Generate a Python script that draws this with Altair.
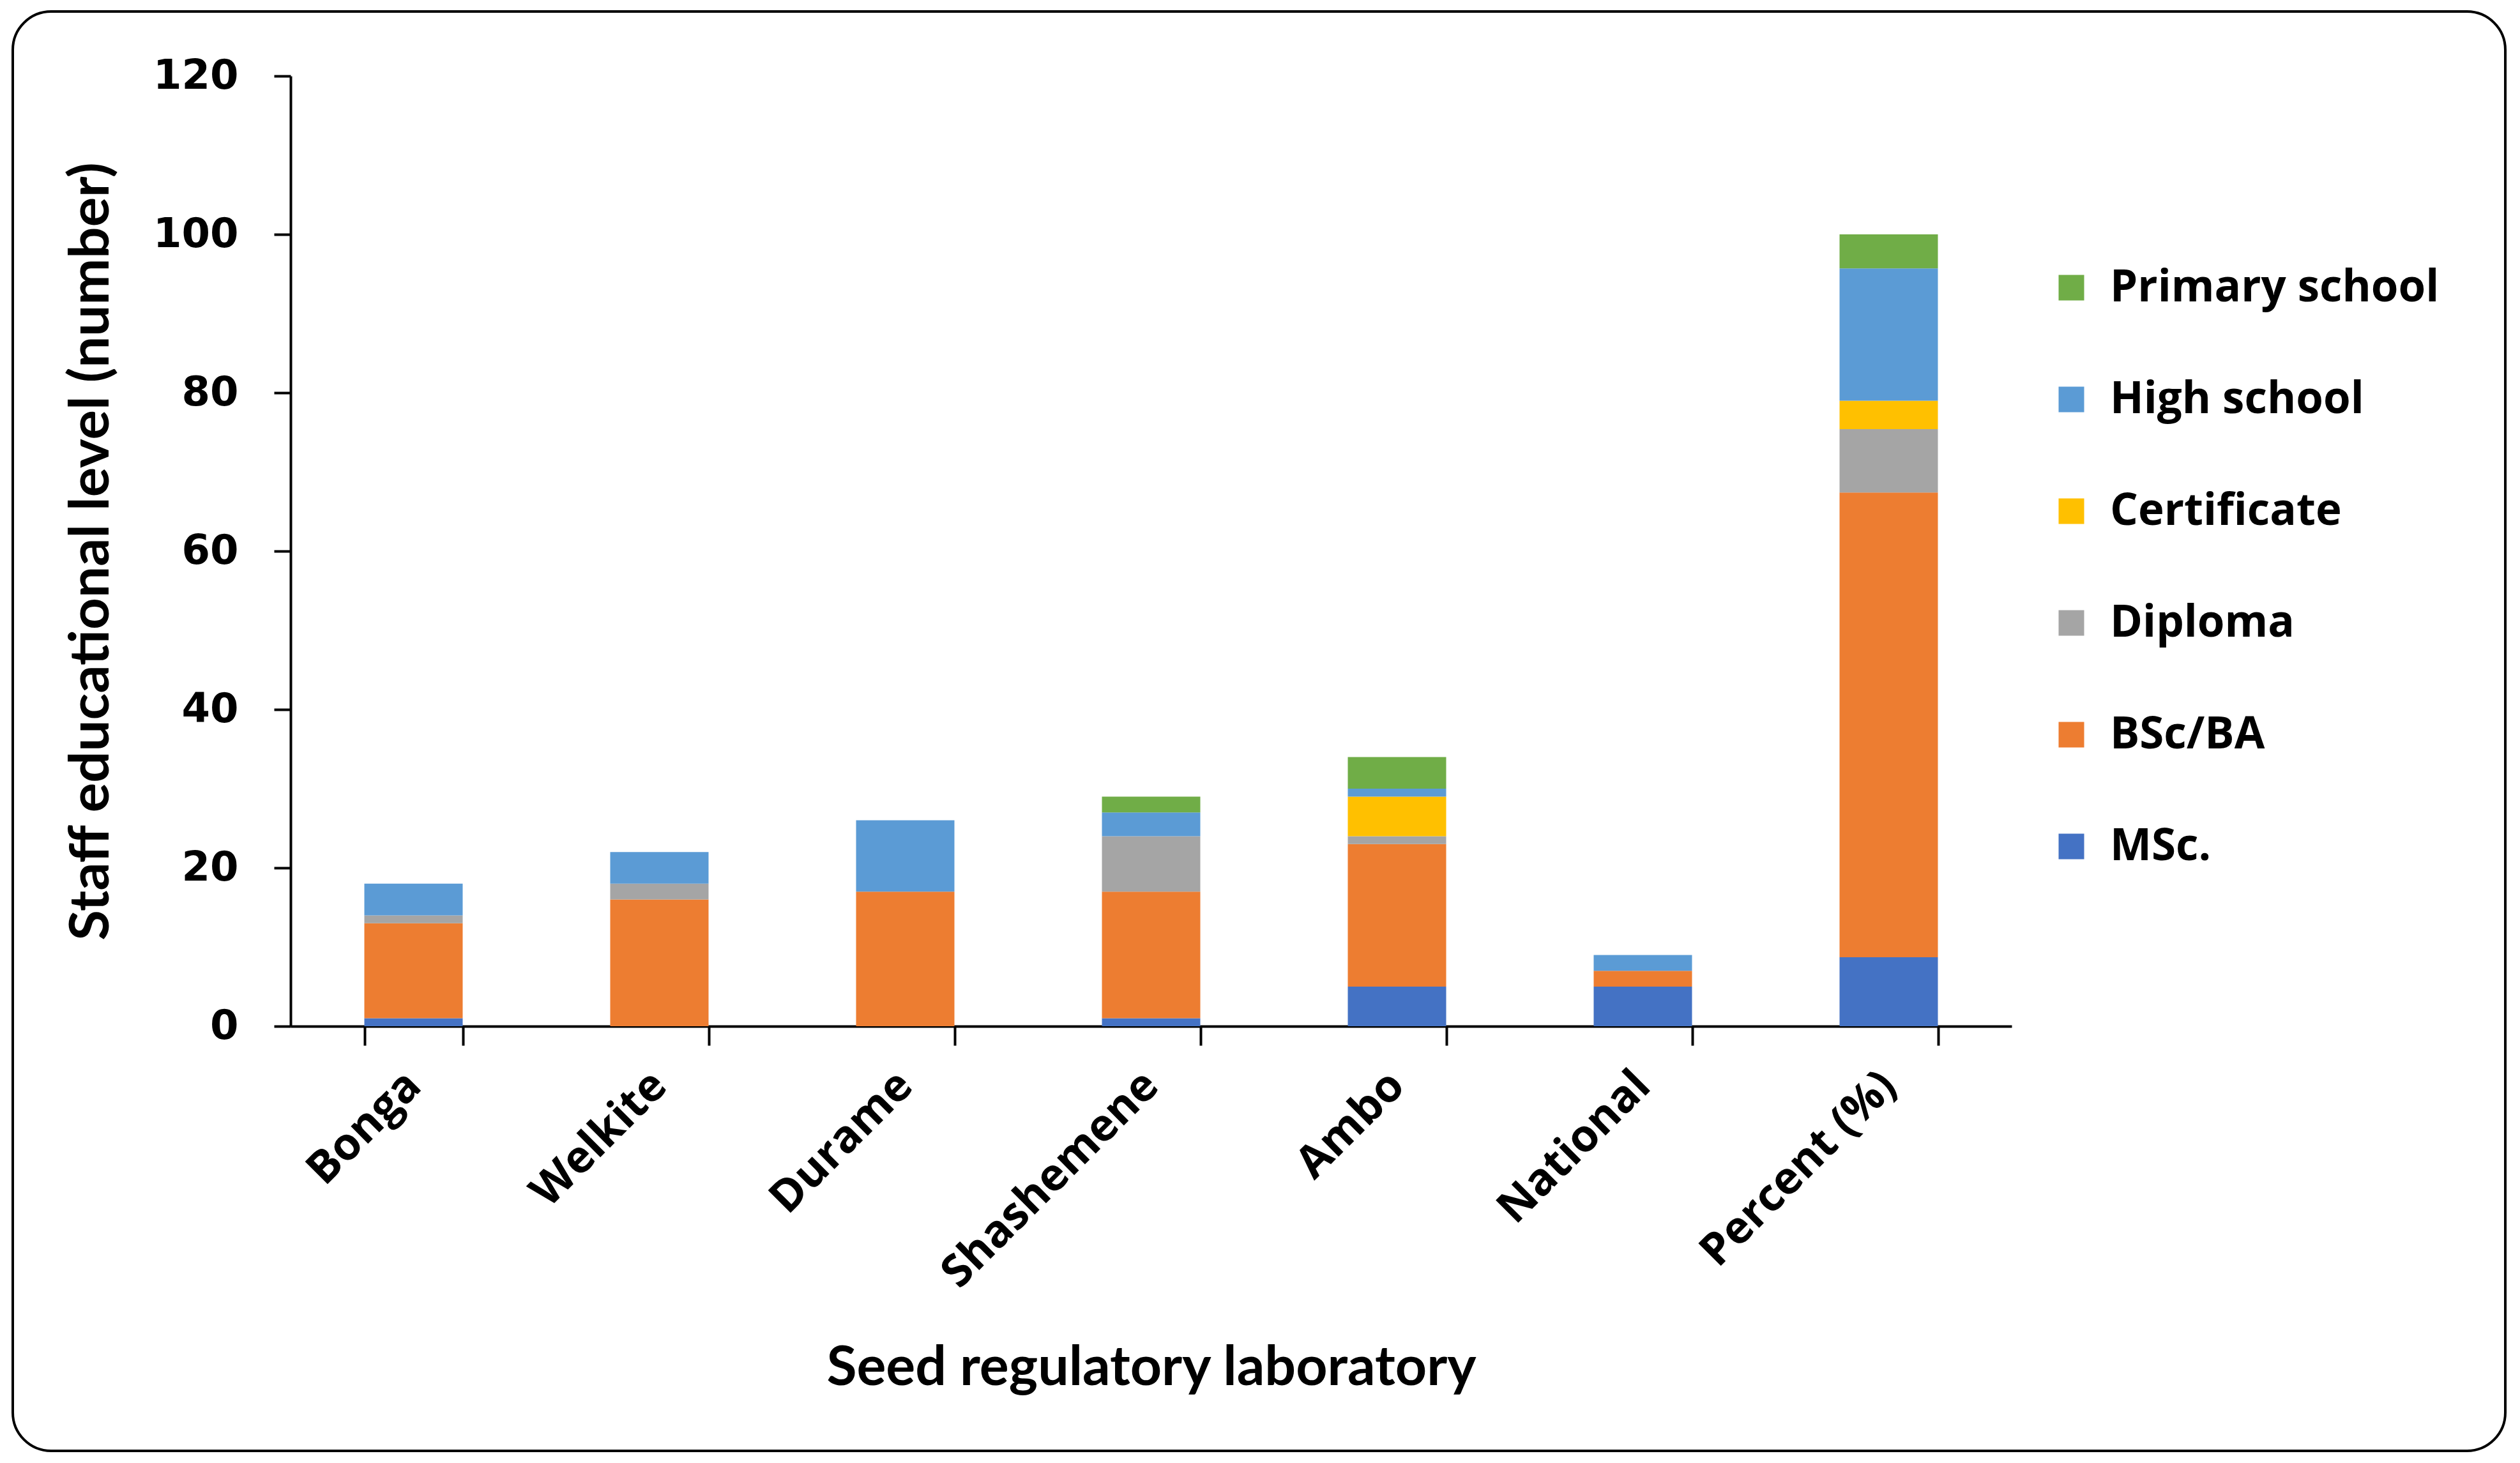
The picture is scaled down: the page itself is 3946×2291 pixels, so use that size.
import altair as alt
import pandas as pd

labs = ["Bonga", "Welkite", "Durame", "Shashemene", "Ambo", "National", "Percent (%)"]
levels = ["MSc.", "BSc/BA", "Diploma", "Certificate", "High school", "Primary school"]
msc = [1, 0, 0, 1, 5, 5, 8.7]
bsc = [12, 16, 17, 16, 18, 2, 58.7]
diploma = [1, 2, 0, 7, 1, 0, 8.0]
certificate = [0, 0, 0, 0, 5, 0, 3.6]
high_school = [4, 4, 9, 3, 1, 2, 16.7]
primary_school = [0, 0, 0, 2, 4, 0, 4.3]
colors = ["#4472C4", "#ED7D31", "#A5A5A5", "#FFC000", "#5B9BD5", "#70AD47"]

series = [msc, bsc, diploma, certificate, high_school, primary_school]
rows = []
for k, (lev, vals) in enumerate(zip(levels, series)):
    for lab, v in zip(labs, vals):
        rows.append({"lab": lab, "level": lev, "value": v, "ord": k})
df = pd.DataFrame(rows)

W, H = 2695, 1488
PL, PT = 447, 111
PR = 3930 - PL - W
PB = 2275 - PT - H

title_font = "Lato"
label_font = "Open Sans"

border = alt.Chart(alt.Data(values=[{}])).mark_rect(
    cornerRadius=60, fill="white", fillOpacity=0, stroke="black", strokeWidth=4
).encode(
    x=alt.value(-435), x2=alt.value(3468), y=alt.value(-101), y2=alt.value(2153)
)

bars = alt.Chart(df).mark_bar().encode(
    x=alt.X(
        "lab:N",
        sort=labs,
        scale=alt.Scale(paddingInner=0.6, paddingOuter=0.3),
        axis=alt.Axis(
            title="Seed regulatory laboratory",
            titleFont=title_font,
            titleFontSize=86,
            titleFontWeight="bold",
            titleColor="black",
            titleY=493,
            titleBaseline="top",
            labelAngle=-45,
            labelAlign="right",
            labelBaseline="middle",
            labelFont=label_font,
            labelFontWeight="bold",
            labelFontSize=70,
            labelColor="black",
            labelPadding=52,
            labelLimit=2000,
            labelOverlap=False,
            tickBand="extent",
            tickSize=30,
            tickWidth=4,
            tickColor="black",
            domainColor="black",
            domainWidth=4,
            grid=False,
        ),
    ),
    y=alt.Y(
        "value:Q",
        stack="zero",
        scale=alt.Scale(domain=[0, 120], nice=False),
        axis=alt.Axis(
            title="Staff educational level (number)",
            titleFont=title_font,
            titleFontSize=87,
            titleFontWeight="bold",
            titleColor="black",
            titlePadding=68,
            values=[0, 20, 40, 60, 80, 100, 120],
            labelFont="DejaVu Sans",
            labelFontWeight="bold",
            labelFontSize=64,
            labelColor="black",
            labelPadding=56,
            tickSize=26,
            tickWidth=4,
            tickColor="black",
            domainColor="black",
            domainWidth=4,
            grid=False,
        ),
    ),
    color=alt.Color(
        "level:N",
        scale=alt.Scale(domain=levels[::-1], range=colors[::-1]),
        legend=alt.Legend(
            title=None,
            orient="none",
            legendX=2754,
            legendY=297,
            symbolType="square",
            symbolSize=1600,
            symbolStrokeWidth=0,
            labelFont=label_font,
            labelFontWeight="bold",
            labelFontSize=69,
            labelColor="black",
            labelOffset=26,
            rowPadding=105,
            labelLimit=1000,
        ),
    ),
    order=alt.Order("ord:Q", sort="ascending"),
)

chart = alt.layer(border, bars).properties(
    width=W,
    height=H,
    padding={"left": PL, "top": PT, "right": PR, "bottom": PB},
    autosize=alt.AutoSizeParams(type="none"),
    background="white",
).configure_view(strokeWidth=0)

chart.save("out.html", embed_options={"renderer": "svg", "actions": False})
